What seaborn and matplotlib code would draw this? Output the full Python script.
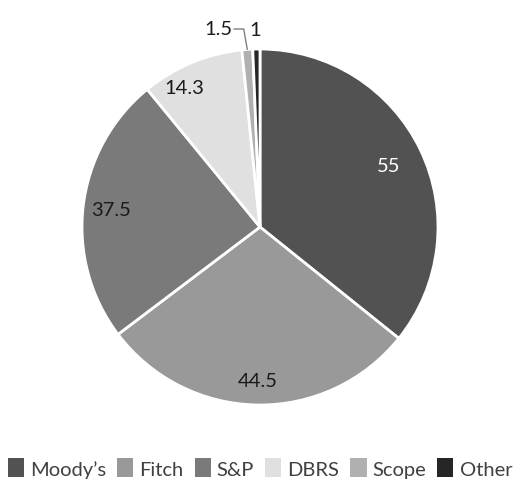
import numpy as np
import matplotlib
matplotlib.use("Agg")
import matplotlib.pyplot as plt
from matplotlib.patches import Patch
import seaborn as sns

# data
agencies = ["Moody\u2019s", "Fitch", "S&P", "DBRS", "Scope", "Other"]
shares = [55, 44.5, 37.5, 14.3, 1.5, 1]
labels = ["55", "44.5", "37.5", "14.3", "1.5", "1"]
colors = ["#525252", "#999999", "#7a7a7a", "#e0e0e0", "#b0b0b0", "#262626"]

sns.set_theme(style="white")
plt.rcParams["font.family"] = ["Lato", "DejaVu Sans"]
fs = 14.5

fig = plt.figure(figsize=(5.2, 4.89), dpi=100)
cx, cy, r = 260, 228, 178
ax = fig.add_axes([(cx - r) / 520, (489 - cy - r) / 489, 2 * r / 520, 2 * r / 489])

wedges, _ = ax.pie(shares, colors=colors, startangle=90, counterclock=False,
                   radius=1, wedgeprops=dict(edgecolor="white", linewidth=2))
ax.set_xlim(-1, 1)
ax.set_ylim(-1, 1)
ax.axis("off")

# label placement: (distance from centre, angle shift in degrees)
place = [(0.80, 0), (0.86, 0), (0.84, 0), (0.89, 6)]
txt_colors = ["white", "#1a1a1a", "#1a1a1a", "#1a1a1a"]
for w, lab, (d, sh), tc in zip(wedges[:4], labels[:4], place, txt_colors):
    ang = np.deg2rad((w.theta1 + w.theta2) / 2 + sh)
    ax.text(d * np.cos(ang), d * np.sin(ang), lab, ha="center", va="center",
            fontsize=fs, color=tc)

# small slices: Scope with leader line, Other just above
w = wedges[4]
ang = np.deg2rad((w.theta1 + w.theta2) / 2)
x0, y0 = np.cos(ang), np.sin(ang)
ax.plot([x0, x0 - 0.02, x0 - 0.075], [y0, y0 + 0.115, y0 + 0.115],
        color="#7f7f7f", lw=1, clip_on=False)
ax.text(x0 - 0.085, y0 + 0.12, labels[4], ha="right", va="center",
        fontsize=fs, color="#1a1a1a")
w = wedges[5]
ang = np.deg2rad((w.theta1 + w.theta2) / 2)
ax.text(np.cos(ang) - 0.005, np.sin(ang) + 0.11, labels[5], ha="center",
        va="center", fontsize=fs, color="#1a1a1a")

handles = [Patch(facecolor=c, edgecolor="none") for c in colors]
fig.legend(handles, agencies, loc="center", bbox_to_anchor=(0.5, 1 - 469 / 489),
           ncol=6, frameon=False, fontsize=fs, handlelength=0.8,
           handleheight=1.05, handletextpad=0.3, columnspacing=0.55,
           labelcolor="#404040")

fig.savefig("out.png", dpi=100)
